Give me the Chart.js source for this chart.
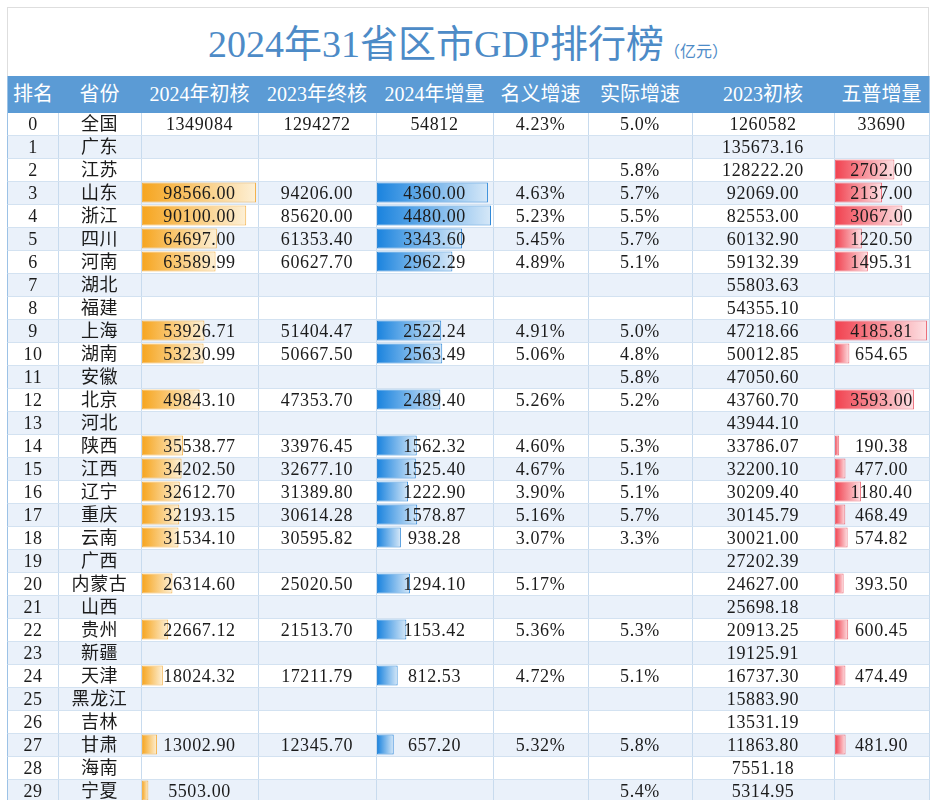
<!DOCTYPE html>
<html>
<head>
<meta charset="utf-8">
<script src="https://cdn.jsdelivr.net/npm/chart.js@4.4.1/dist/chart.umd.min.js"></script>
<style>
    body { margin: 0; background: #fff; overflow: hidden; }
    #page { position: relative; width: 936px; height: 800px; overflow: hidden;
            font-family: "Liberation Serif", "Noto Sans CJK SC", serif; }
    #titleBox { position: absolute; left: 7px; top: 7px; width: 922px; height: 69px;
                box-sizing: border-box; border: 1px solid #dedede; border-bottom: none;
                text-align: center; color: #4d8bc7; }
    #titleBox .main { font-size: 38px; line-height: 72px; }
    #titleBox .unit { font-size: 16px; }
    #stripes { position: absolute; left: 7px; top: 113px; width: 922px; height: 690px;
               background: repeating-linear-gradient(to bottom, #ffffff 0 23px, #eaf1fa 23px 46px); }
    .bars { position: absolute; top: 112px; }
    #cells { position: absolute; left: 0; top: 0; width: 936px; height: 800px; }
    .cell { position: absolute; box-sizing: border-box; text-align: center; white-space: nowrap;
            overflow: hidden; }
    .head { background: #5b9bd5; color: #fff; font-size: 20px; line-height: 37px;
            border-right: 1px solid #a3c6e8; }
    .body { color: #1b1b1b; font-size: 18px; letter-spacing: 0.6px; line-height: 23px;
            border-right: 1px solid #c8dbee; border-bottom: 1px solid #d3e2f1; }
    .first { border-left: 1px solid #9cc2e6; }
</style>
</head>
<body>
<div id="page">
    <div id="titleBox"><span class="main">2024年31省区市GDP排行榜</span><span class="unit">（亿元）</span></div>
    <div id="stripes"></div>
    <canvas id="barGdp2024" class="bars"></canvas>
    <canvas id="barIncrease" class="bars"></canvas>
    <canvas id="barCensus" class="bars"></canvas>
    <div id="cells"></div>
</div>

<script>
// table data, 亿元; null = empty cell
const headers = ["排名", "省份", "2024年初核", "2023年终核", "2024年增量", "名义增速", "实际增速", "2023初核", "五普增量"];
const provinces = ["全国", "广东", "江苏", "山东", "浙江", "四川", "河南", "湖北", "福建", "上海",
    "湖南", "安徽", "北京", "河北", "陕西", "江西", "辽宁", "重庆", "云南", "广西",
    "内蒙古", "山西", "贵州", "新疆", "天津", "黑龙江", "吉林", "甘肃", "海南", "宁夏"];
const gdp2024 = [1349084, null, null, 98566.00, 90100.00, 64697.00, 63589.99, null, null, 53926.71,
    53230.99, null, 49843.10, null, 35538.77, 34202.50, 32612.70, 32193.15, 31534.10, null,
    26314.60, null, 22667.12, null, 18024.32, null, null, 13002.90, null, 5503.00];
const gdp2023Final = [1294272, null, null, 94206.00, 85620.00, 61353.40, 60627.70, null, null, 51404.47,
    50667.50, null, 47353.70, null, 33976.45, 32677.10, 31389.80, 30614.28, 30595.82, null,
    25020.50, null, 21513.70, null, 17211.79, null, null, 12345.70, null, null];
const increase2024 = [54812, null, null, 4360.00, 4480.00, 3343.60, 2962.29, null, null, 2522.24,
    2563.49, null, 2489.40, null, 1562.32, 1525.40, 1222.90, 1578.87, 938.28, null,
    1294.10, null, 1153.42, null, 812.53, null, null, 657.20, null, null];
const nominalGrowth = [4.23, null, null, 4.63, 5.23, 5.45, 4.89, null, null, 4.91,
    5.06, null, 5.26, null, 4.60, 4.67, 3.90, 5.16, 3.07, null,
    5.17, null, 5.36, null, 4.72, null, null, 5.32, null, null];
const realGrowth = [5.0, null, 5.8, 5.7, 5.5, 5.7, 5.1, null, null, 5.0,
    4.8, 5.8, 5.2, null, 5.3, 5.1, 5.1, 5.7, 3.3, null,
    null, null, 5.3, null, 5.1, null, null, 5.8, null, 5.4];
const gdp2023Prelim = [1260582, 135673.16, 128222.20, 92069.00, 82553.00, 60132.90, 59132.39, 55803.63, 54355.10, 47218.66,
    50012.85, 47050.60, 43760.70, 43944.10, 33786.07, 32200.10, 30209.40, 30145.79, 30021.00, 27202.39,
    24627.00, 25698.18, 20913.25, 19125.91, 16737.30, 15883.90, 13531.19, 11863.80, 7551.18, 5314.95];
const censusIncrease = [33690, null, 2702.00, 2137.00, 3067.00, 1220.50, 1495.31, null, null, 4185.81,
    654.65, null, 3593.00, null, 190.38, 477.00, 1180.40, 468.49, 574.82, null,
    393.50, null, 600.45, null, 474.49, null, null, 481.90, null, null];

// column edges in px
const colX = [7, 58, 141, 258, 376, 493, 588, 692, 834, 929];
const headTop = 76, headH = 37, bodyTop = 113, rowH = 23;

function fmtNum(v, i) {
    if (v == null) return "";
    return i === 0 ? String(v) : v.toFixed(2);
}
function fmtPct(v, digits) {
    return v == null ? "" : v.toFixed(digits) + "%";
}

function addCell(cls, x0, x1, y, h, text) {
    const d = document.createElement("div");
    d.className = "cell " + cls;
    d.style.left = x0 + "px";
    d.style.width = (x1 - x0 + 1) + "px";
    d.style.top = y + "px";
    d.style.height = h + "px";
    d.textContent = text;
    document.getElementById("cells").appendChild(d);
}

// header + rows
headers.forEach((h, c) => addCell("head" + (c === 0 ? " first" : ""), colX[c], colX[c + 1], headTop, headH, h));
provinces.forEach((p, i) => {
    const row = [String(i), p, fmtNum(gdp2024[i], i), fmtNum(gdp2023Final[i], i), fmtNum(increase2024[i], i),
        fmtPct(nominalGrowth[i], 2), fmtPct(realGrowth[i], 1), fmtNum(gdp2023Prelim[i], i), fmtNum(censusIncrease[i], i)];
    row.forEach((t, c) => addCell("body" + (c === 0 ? " first" : ""), colX[c], colX[c + 1], bodyTop + i * rowH, rowH, t));
});

// gradient fill from bar start to bar end
function barGradient(ctx, c1, c2) {
    const chart = ctx.chart;
    const x = chart.scales.x;
    if (!x || ctx.raw == null) return c1;
    const x0 = x.getPixelForValue(0), x1 = x.getPixelForValue(ctx.raw);
    if (!isFinite(x1) || x1 - x0 < 1) return c1;
    const g = chart.ctx.createLinearGradient(x0, 0, x1, 0);
    g.addColorStop(0, c1);
    g.addColorStop(1, c2);
    return g;
}

// one horizontal bar chart laid over a table column (data bars)
function dataBars(id, col, values, c1, c2, line) {
    const canvas = document.getElementById(id);
    const w = colX[col + 1] - colX[col] - 3;
    canvas.width = w;
    canvas.height = provinces.length * rowH;
    canvas.style.left = (colX[col] + 1) + "px";
    canvas.style.width = w + "px";
    canvas.style.height = canvas.height + "px";
    const shown = values.map((v, i) => (i === 0 ? null : v)); // 全国 row has no bar
    const maxVal = Math.max(...shown.filter(v => v != null));
    return new Chart(canvas, {
        type: "bar",
        data: {
            labels: provinces,
            datasets: [{
                data: shown,
                backgroundColor: (ctx) => barGradient(ctx, c1, c2),
                borderColor: line,
                borderWidth: 1,
                borderSkipped: false,
                barPercentage: 0.87,
                categoryPercentage: 1
            }]
        },
        options: {
            indexAxis: "y",
            responsive: false,
            animation: false,
            events: [],
            layout: { padding: 0 },
            plugins: { legend: { display: false }, tooltip: { enabled: false } },
            scales: {
                x: { display: false, min: 0, max: maxVal },
                y: { display: false }
            }
        }
    });
}

dataBars("barGdp2024", 2, gdp2024, "#f6a51f", "#fdf0d6", "#f3b24c");
dataBars("barIncrease", 4, increase2024, "#1a83de", "#d6e8f8", "#3089d8");
dataBars("barCensus", 8, censusIncrease, "#f1414f", "#fde1e4", "#ec6f7b");
</script>
</body>
</html>
